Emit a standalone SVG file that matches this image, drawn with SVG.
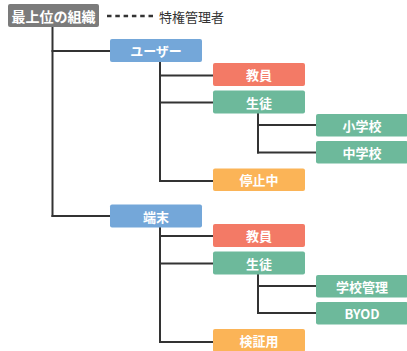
<svg xmlns="http://www.w3.org/2000/svg" width="407" height="351" viewBox="0 0 407 351">
<style>
.box text{font-family:"Noto Sans CJK JP","Noto Sans",sans-serif;font-weight:bold;font-size:13px;fill:#fff;text-anchor:middle;dominant-baseline:central}
.gray{fill:#7b7b7b}.blue{fill:#74a7d9}.red{fill:#f37a66}.green{fill:#6db99b}.orange{fill:#fbb457}
.conn line{stroke:#333;stroke-width:2;stroke-linecap:square}
</style>
<rect width="407" height="351" fill="#fff"/>
<g class="conn" id="connectors">
<line x1="52.5" y1="27" x2="52.5" y2="216"/>
<line x1="52.5" y1="51" x2="110" y2="51"/>
<line x1="52.5" y1="216" x2="110" y2="216"/>
<line x1="160" y1="62" x2="160" y2="181"/>
<line x1="160" y1="75.5" x2="213" y2="75.5"/>
<line x1="160" y1="102.5" x2="213" y2="102.5"/>
<line x1="160" y1="181" x2="213" y2="181"/>
<line x1="258" y1="113" x2="258" y2="152.5"/>
<line x1="258" y1="125" x2="316" y2="125"/>
<line x1="258" y1="152.5" x2="316" y2="152.5"/>
<line x1="160" y1="227" x2="160" y2="342"/>
<line x1="160" y1="236" x2="213" y2="236"/>
<line x1="160" y1="263.5" x2="213" y2="263.5"/>
<line x1="160" y1="342" x2="213" y2="342"/>
<line x1="258" y1="274" x2="258" y2="313"/>
<line x1="258" y1="286" x2="316" y2="286"/>
<line x1="258" y1="313" x2="316" y2="313"/>
</g>
<g id="legend">
<line x1="107" y1="16" x2="153" y2="16" stroke="#333" stroke-width="2.5" stroke-dasharray="4.5 3.8"/>
<text x="159" y="16" font-family="Noto Sans CJK JP,Noto Sans,sans-serif" font-size="13" fill="#333" dominant-baseline="central">特権管理者</text>
</g>
<g class="box" id="root"><rect class="gray" x="8" y="4" width="91" height="23" rx="2"/><text x="53.5" y="15.5" style="font-size:14px">最上位の組織</text></g>
<g class="box" id="user"><rect class="blue" x="110" y="39" width="92" height="23" rx="2"/><text x="156" y="50.5">ユーザー</text></g>
<g class="box" id="teacher1"><rect class="red" x="213" y="63" width="92" height="23" rx="2"/><text x="259" y="74.5">教員</text></g>
<g class="box" id="student1"><rect class="green" x="213" y="90.5" width="92" height="23" rx="2"/><text x="259" y="102">生徒</text></g>
<g class="box" id="elementary"><rect class="green" x="316" y="114" width="92" height="22.5" rx="2"/><text x="362" y="125.2">小学校</text></g>
<g class="box" id="junior"><rect class="green" x="316" y="141" width="92" height="22.5" rx="2"/><text x="362" y="152.2">中学校</text></g>
<g class="box" id="suspended"><rect class="orange" x="213" y="168.5" width="92" height="22.5" rx="2"/><text x="259" y="179.7">停止中</text></g>
<g class="box" id="device"><rect class="blue" x="110" y="204.5" width="92" height="23" rx="2"/><text x="156" y="216">端末</text></g>
<g class="box" id="teacher2"><rect class="red" x="213" y="224" width="92" height="23" rx="2"/><text x="259" y="235.5">教員</text></g>
<g class="box" id="student2"><rect class="green" x="213" y="251.5" width="92" height="23" rx="2"/><text x="259" y="263">生徒</text></g>
<g class="box" id="schoolmanaged"><rect class="green" x="316" y="275" width="92" height="22.5" rx="2"/><text x="362" y="286.2">学校管理</text></g>
<g class="box" id="byod"><rect class="green" x="316" y="302" width="92" height="22.5" rx="2"/><text x="362" y="313.2">BYOD</text></g>
<g class="box" id="testing"><rect class="orange" x="213" y="329" width="92" height="23" rx="2"/><text x="259" y="340.5">検証用</text></g>
</svg>
